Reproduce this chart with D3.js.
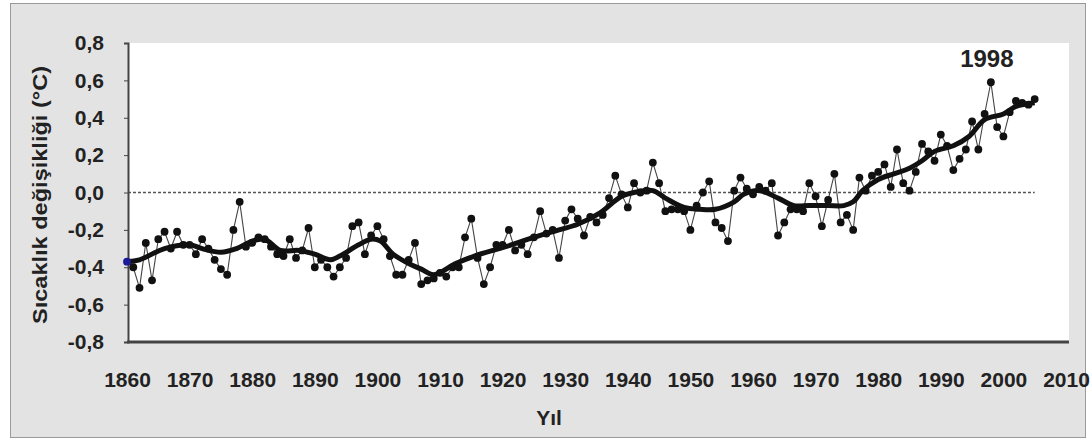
<!DOCTYPE html>
<html><head><meta charset="utf-8">
<script src="https://cdn.jsdelivr.net/npm/d3@7"></script>
<style>
body{margin:0;background:#fff}
svg{display:block}
text{font-family:"Liberation Sans",Arial,sans-serif;font-weight:bold;fill:#222}
</style>
</head><body>
<svg id="c" width="1091" height="443"></svg>
<script>
const years = [1860,1861,1862,1863,1864,1865,1866,1867,1868,1869,
1870,1871,1872,1873,1874,1875,1876,1877,1878,1879,
1880,1881,1882,1883,1884,1885,1886,1887,1888,1889,
1890,1891,1892,1893,1894,1895,1896,1897,1898,1899,
1900,1901,1902,1903,1904,1905,1906,1907,1908,1909,
1910,1911,1912,1913,1914,1915,1916,1917,1918,1919,
1920,1921,1922,1923,1924,1925,1926,1927,1928,1929,
1930,1931,1932,1933,1934,1935,1936,1937,1938,1939,
1940,1941,1942,1943,1944,1945,1946,1947,1948,1949,
1950,1951,1952,1953,1954,1955,1956,1957,1958,1959,
1960,1961,1962,1963,1964,1965,1966,1967,1968,1969,
1970,1971,1972,1973,1974,1975,1976,1977,1978,1979,
1980,1981,1982,1983,1984,1985,1986,1987,1988,1989,
1990,1991,1992,1993,1994,1995,1996,1997,1998,1999,
2000,2001,2002,2003,2004,2005];
const anomalies = [-0.37,-0.40,-0.51,-0.27,-0.47,-0.25,-0.21,-0.30,-0.21,-0.28,
-0.28,-0.33,-0.25,-0.30,-0.36,-0.41,-0.44,-0.20,-0.05,-0.29,
-0.27,-0.24,-0.25,-0.29,-0.33,-0.34,-0.25,-0.35,-0.31,-0.19,
-0.40,-0.36,-0.40,-0.45,-0.40,-0.35,-0.18,-0.16,-0.33,-0.23,
-0.18,-0.25,-0.34,-0.44,-0.44,-0.36,-0.27,-0.49,-0.47,-0.46,
-0.43,-0.45,-0.40,-0.40,-0.24,-0.14,-0.35,-0.49,-0.40,-0.28,
-0.28,-0.20,-0.31,-0.28,-0.33,-0.24,-0.10,-0.22,-0.20,-0.35,
-0.15,-0.09,-0.14,-0.23,-0.13,-0.16,-0.12,-0.03,0.09,-0.01,
-0.08,0.05,0.00,0.01,0.16,0.05,-0.10,-0.09,-0.09,-0.10,
-0.20,-0.07,0.00,0.06,-0.16,-0.19,-0.26,0.01,0.08,0.02,
-0.01,0.03,0.01,0.05,-0.23,-0.16,-0.09,-0.09,-0.10,0.05,
-0.02,-0.18,-0.04,0.10,-0.16,-0.12,-0.20,0.08,0.01,0.09,
0.11,0.15,0.03,0.23,0.05,0.01,0.11,0.26,0.22,0.17,
0.31,0.25,0.12,0.18,0.23,0.38,0.23,0.42,0.59,0.35,
0.30,0.43,0.49,0.48,0.47,0.50];
const smoothYears = [1860,1862,1866,1870,1872,1875,1877.5,1880,1882,1884.5,1887.5,1890,1892.5,1894,1897,1899,1900.5,1902.5,1905,1907,1909,1912.5,1915.5,1920.5,1925,1929,1932,1935.5,1939,1941,1944,1946,1949,1951.5,1954,1957,1958.5,1961,1964,1966.5,1969,1972,1974.5,1976,1977.5,1980,1982.5,1985,1987,1989,1992,1994.5,1997,2000,2002,2005];
const smoothValues = [-0.37,-0.36,-0.30,-0.28,-0.30,-0.32,-0.30,-0.26,-0.25,-0.31,-0.31,-0.33,-0.36,-0.34,-0.28,-0.25,-0.26,-0.33,-0.38,-0.41,-0.44,-0.38,-0.34,-0.29,-0.24,-0.20,-0.17,-0.11,-0.02,0.00,0.01,-0.03,-0.08,-0.09,-0.09,-0.05,-0.01,0.01,-0.03,-0.07,-0.07,-0.07,-0.07,-0.05,0.01,0.07,0.10,0.13,0.17,0.22,0.25,0.30,0.39,0.42,0.46,0.48];
const yTicks = [0.8,0.6,0.4,0.2,0.0,-0.2,-0.4,-0.6,-0.8];
const xTicks = [1860,1870,1880,1890,1900,1910,1920,1930,1940,1950,1960,1970,1980,1990,2000,2010];
const yTitle = "Sıcaklık değişikliği (°C)";
const xTitle = "Yıl";
const peakLabel = "1998";

const svg = d3.select("#c");
svg.append("rect").attr("x",10.5).attr("y",3.5).attr("width",1075).attr("height",434)
  .attr("fill","#e3e3e3").attr("stroke","#9a9a9a");
const L=128,R=1069,T=43,B=342;
svg.append("rect").attr("x",L).attr("y",T).attr("width",R-L).attr("height",B-T).attr("fill","#fff");

const x = d3.scaleLinear().domain([1860,2010]).range([127,1066]);
const y = d3.scaleLinear().domain([-0.8,0.8]).range([B,T]);

svg.append("line").attr("x1",L).attr("x2",x(2005)).attr("y1",y(0)).attr("y2",y(0))
  .attr("stroke","#555").attr("stroke-width",1.5).attr("stroke-dasharray","3,2");

const yAxis = d3.axisLeft(y).tickValues(yTicks).tickSize(4).tickPadding(20)
  .tickFormat(d=>d3.format(".1f")(d).replace(".",",").replace("−","-"));
const gy = svg.append("g").attr("transform",`translate(${L},0)`).call(yAxis);
gy.select(".domain").attr("stroke","#444").attr("stroke-width",2);
gy.selectAll(".tick line").attr("stroke","#444");
gy.selectAll("text").style("font-size","21px").attr("fill","#222");

const xAxis = d3.axisBottom(x).tickValues(xTicks).tickSize(0).tickPadding(30).tickFormat(d3.format("d"));
const gx = svg.append("g").attr("transform",`translate(0,${B})`).call(xAxis);
gx.select(".domain").remove();
gx.selectAll("text").style("font-size","21px").attr("fill","#222");
svg.append("line").attr("x1",L-1).attr("x2",R).attr("y1",B).attr("y2",B).attr("stroke","#444").attr("stroke-width",3);

const pts = years.map((yr,i)=>({yr, v:anomalies[i]}));
svg.append("path").datum(pts)
  .attr("d", d3.line().x(d=>x(d.yr)).y(d=>y(d.v)))
  .attr("fill","none").attr("stroke","#444").attr("stroke-width",1.1);

const sm = smoothYears.map((yr,i)=>({yr, v:smoothValues[i]}));
svg.append("path").datum(sm)
  .attr("d", d3.line().curve(d3.curveCatmullRom.alpha(0.5)).x(d=>x(d.yr)).y(d=>y(d.v)))
  .attr("fill","none").attr("stroke","#111").attr("stroke-width",5).attr("stroke-linejoin","round");

svg.append("g").selectAll("circle").data(pts).join("circle")
  .attr("cx",d=>x(d.yr)).attr("cy",d=>y(d.v)).attr("r",3.9)
  .attr("fill",(d,i)=>i===0?"#1a1a9a":"#111");

svg.append("text").attr("x",x(1998)-4).attr("y",67).attr("text-anchor","middle")
  .style("font-size","24px").text(peakLabel);
svg.append("text").attr("transform","translate(47,195) rotate(-90)").attr("text-anchor","middle")
  .attr("textLength",258).attr("lengthAdjust","spacingAndGlyphs")
  .style("font-size","21px").text(yTitle);
svg.append("text").attr("x",549).attr("y",425).attr("text-anchor","middle")
  .style("font-size","21px").text(xTitle);
</script>
</body></html>
